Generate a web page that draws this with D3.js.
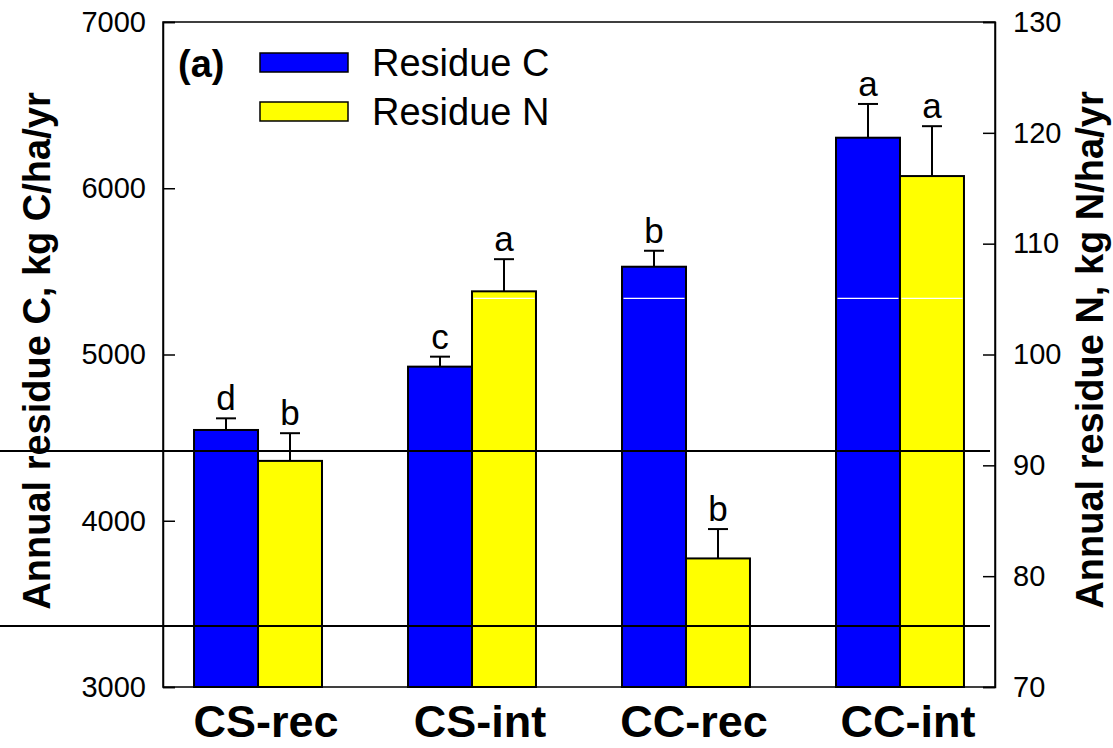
<!DOCTYPE html>
<html>
<head>
<meta charset="utf-8">
<script src="https://cdn.jsdelivr.net/npm/d3@7/dist/d3.min.js"></script>
<style>
  html, body { margin: 0; padding: 0; background: #fff; }
  svg { display: block; font-family: "Liberation Sans", Arial, sans-serif; }
</style>
</head>
<body>
<svg id="chart" width="1113" height="748"></svg>
<script>
// ---- data ----
const categories = ["CS-rec", "CS-int", "CC-rec", "CC-int"];
const residueC = [4546, 4927, 5528, 6304];
const residueCErr = [70, 60, 96, 203];
const residueN = [90.4, 105.7, 81.6, 116.1];
const residueNErr = [2.5, 2.9, 2.65, 4.5];
const lettersC = ["d", "c", "b", "a"];
const lettersN = ["b", "a", "b", "a"];
const leftTicks = [3000, 4000, 5000, 6000, 7000];
const rightTicks = [70, 80, 90, 100, 110, 120, 130];
const blackLinesC = [4420, 3367];   // horizontal black reference lines (left-axis units)
const whiteLineC = 5338;            // thin white line drawn inside bars (left-axis units)
const seriesNames = ["Residue C", "Residue N"];
const seriesColors = ["#0000ff", "#ffff00"];

// ---- layout ----
const svg = d3.select("#chart");
const L = 163, R = 995, T = 22, B = 687;

const yL = d3.scaleLinear().domain([3000, 7000]).range([B, T]);
const yR = d3.scaleLinear().domain([70, 130]).range([B, T]);
const x = d3.scaleBand().domain(categories).range([L, R]).paddingInner(0.402).paddingOuter(0.145);
const xs = d3.scaleBand().domain(["C", "N"]).range([0, x.bandwidth()]);

const rows = categories.map((c, i) => ({
  cat: c,
  bars: [
    { key: "C", v: residueC[i], e: residueCErr[i], letter: lettersC[i], y: yL, color: seriesColors[0] },
    { key: "N", v: residueN[i], e: residueNErr[i], letter: lettersN[i], y: yR, color: seriesColors[1] }
  ]
}));
const bars = rows.flatMap(r => r.bars.map(b => Object.assign({ cat: r.cat }, b)));

// frame
svg.append("rect").attr("x", L).attr("y", T).attr("width", R - L).attr("height", B - T)
  .attr("fill", "none").attr("stroke", "#000").attr("stroke-width", 1.5);

// bars
const g = svg.append("g");
g.selectAll("rect.bar").data(bars).enter().append("rect")
  .attr("class", "bar")
  .attr("x", d => x(d.cat) + xs(d.key))
  .attr("y", d => d.y(d.v))
  .attr("width", xs.bandwidth())
  .attr("height", d => B - d.y(d.v))
  .attr("fill", d => d.color)
  .attr("stroke", "#000")
  .attr("stroke-width", 2);

// white line inside bars
const wy = yL(whiteLineC);
g.selectAll("line.white").data(bars.filter(d => d.y(d.v) < wy - 1)).enter().append("line")
  .attr("x1", d => x(d.cat) + xs(d.key) + 1.5)
  .attr("x2", d => x(d.cat) + xs(d.key) + xs.bandwidth() - 1.5)
  .attr("y1", wy).attr("y2", wy)
  .attr("stroke", "#fff").attr("stroke-width", 1.2);

// error bars
const cap = 10;
bars.forEach(d => {
  const cx = x(d.cat) + xs(d.key) + xs.bandwidth() / 2;
  const y0 = d.y(d.v), y1 = d.y(d.v + d.e);
  g.append("line").attr("x1", cx).attr("x2", cx).attr("y1", y0).attr("y2", y1)
    .attr("stroke", "#000").attr("stroke-width", 2);
  g.append("line").attr("x1", cx - cap).attr("x2", cx + cap).attr("y1", y1).attr("y2", y1)
    .attr("stroke", "#000").attr("stroke-width", 2);
  g.append("text").attr("x", cx).attr("y", y1 - 8)
    .attr("text-anchor", "middle").attr("font-size", 35).text(d.letter);
});

// black horizontal lines across
svg.selectAll("line.black").data(blackLinesC).enter().append("line")
  .attr("x1", 0).attr("x2", 990)
  .attr("y1", d => yL(d)).attr("y2", d => yL(d))
  .attr("stroke", "#000").attr("stroke-width", 2);

// axes
const axL = svg.append("g").attr("transform", `translate(${L},0)`)
  .call(d3.axisLeft(yL).tickValues(leftTicks).tickSize(-12).tickPadding(17).tickFormat(d3.format("d")));
const axR = svg.append("g").attr("transform", `translate(${R},0)`)
  .call(d3.axisRight(yR).tickValues(rightTicks).tickSize(-12).tickPadding(18).tickFormat(d3.format("d")));
[axL, axR].forEach(a => {
  a.select(".domain").attr("stroke-width", 1.5);
  a.selectAll(".tick line").attr("stroke-width", 1.5);
  a.selectAll(".tick text").attr("font-size", 29).attr("fill", "#000")
    .attr("font-family", "Liberation Sans, Arial, sans-serif");
});

// category labels
svg.selectAll("text.cat").data(categories).enter().append("text")
  .attr("x", d => x(d) + x.bandwidth() / 2 + 8)
  .attr("y", 737)
  .attr("text-anchor", "middle")
  .attr("font-size", 45).attr("font-weight", "bold")
  .text(d => d);

// axis titles
svg.append("text")
  .attr("transform", "translate(50,351) rotate(-90)")
  .attr("text-anchor", "middle").attr("font-size", 38).attr("font-weight", "bold")
  .text("Annual residue C, kg C/ha/yr");
svg.append("text")
  .attr("transform", "translate(1103,350) rotate(-90)")
  .attr("text-anchor", "middle").attr("font-size", 38).attr("font-weight", "bold")
  .text("Annual residue N, kg N/ha/yr");

// panel label + legend
svg.append("text").attr("x", 178).attr("y", 77)
  .attr("font-size", 38).attr("font-weight", "bold").text("(a)");
const leg = svg.append("g");
seriesNames.forEach((n, i) => {
  leg.append("rect").attr("x", 260).attr("y", 53 + i * 49).attr("width", 88).attr("height", 19)
    .attr("fill", seriesColors[i]).attr("stroke", "#000").attr("stroke-width", 1.5);
  leg.append("text").attr("x", 372).attr("y", 76 + i * 49)
    .attr("font-size", 38).text(n);
});
</script>
</body>
</html>
